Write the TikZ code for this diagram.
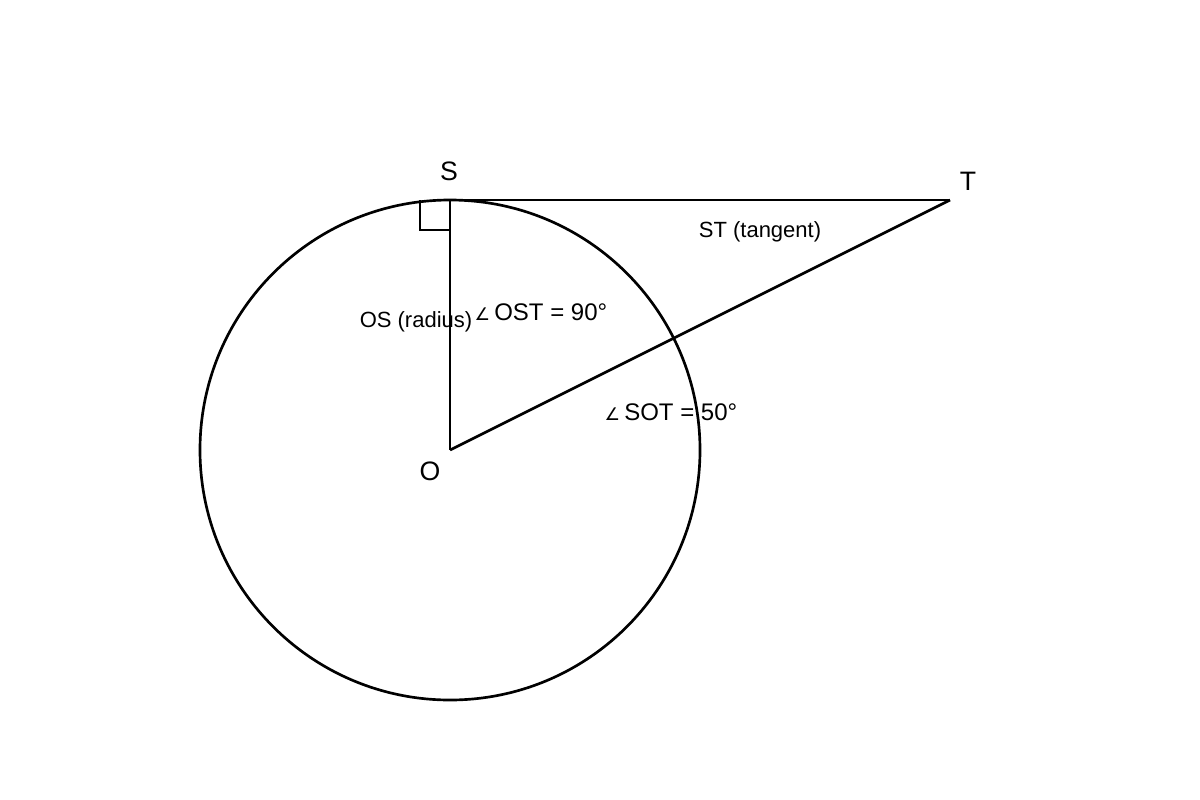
\documentclass[tikz,border=0pt]{standalone}
\usepackage{fontspec}
\setmainfont{Liberation Sans}
\newfontfamily\symfont{DejaVu Sans}
\usetikzlibrary{positioning}
\newcommand{\angsym}{{\symfont\fontsize{13}{13}\selectfont ∠}}
\tikzset{
  geo/.style={line width=2pt},
  ptlabel/.style={inner sep=0pt,font=\fontsize{20}{20}\selectfont},
  seglabel/.style={inner sep=0pt,font=\fontsize{16.5}{16.5}\selectfont},
  anglabel/.style={inner sep=0pt,font=\fontsize{18}{18}\selectfont}
}
\begin{document}
\begin{tikzpicture}[x=0.75pt,y=-0.75pt]
\useasboundingbox (0,0) rectangle (1200,800);
%points
\coordinate (O) at (450,450);
\coordinate (S) at (450,200);
\coordinate (T) at (950,200);
%circle
\draw[geo] (O) circle (250);
%right angle mark
\draw[line width=1.3pt] (420,200) -- (420,230) -- (450,230);
%triangle sides
\draw[geo] (O) -- (S);
\draw[geo] (S) -- (T);
\draw[geo] (O) -- (T);
%point labels
\node[ptlabel] (labS) at (449,171) {S};
\node[ptlabel] (labT) at (968,181) {T};
\node[ptlabel] (labO) at (430,471) {O};
%side labels
\node[seglabel] (tangent) at (760,232) {ST (tangent)};
\node[seglabel] (radius) at (416,322) {OS (radius)};
%angle labels
\node[anglabel] (ost) at (541,312) {\angsym\,OST = 90°};
\node[anglabel] (sot) at (671,412) {\angsym\,SOT = 50°};
\end{tikzpicture}
\end{document}
